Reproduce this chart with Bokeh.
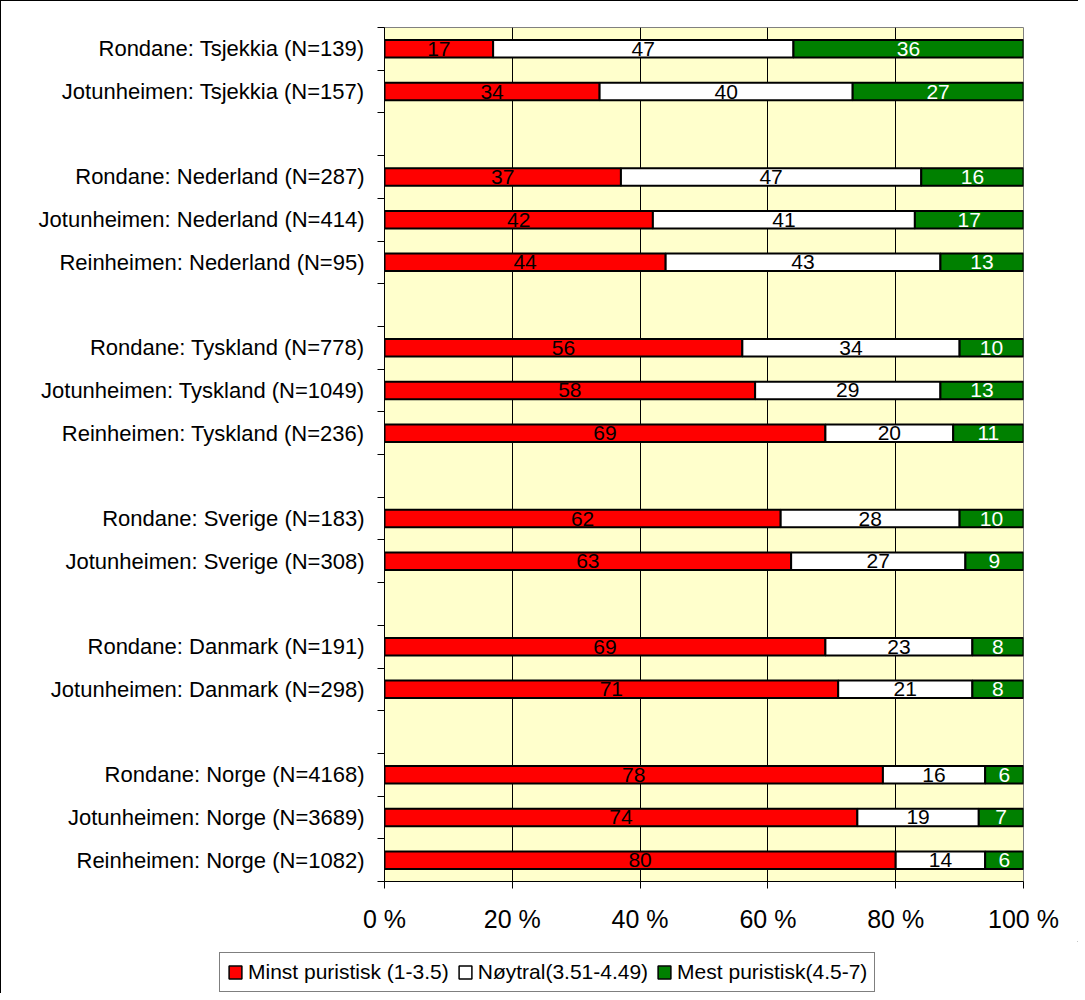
from bokeh.plotting import figure
from bokeh.layouts import column
from bokeh.models import Range1d, FixedTicker, Legend, LegendItem, ColumnDataSource
from bokeh.embed import file_html
from bokeh.resources import INLINE
from bokeh.core.properties import value

# ---- data (top row first; "" marks an empty spacer row) ----
categories = [
    "Rondane: Tsjekkia (N=139)",
    "Jotunheimen: Tsjekkia (N=157)",
    "",
    "Rondane: Nederland (N=287)",
    "Jotunheimen: Nederland (N=414)",
    "Reinheimen: Nederland (N=95)",
    "",
    "Rondane: Tyskland (N=778)",
    "Jotunheimen: Tyskland (N=1049)",
    "Reinheimen: Tyskland (N=236)",
    "",
    "Rondane: Sverige (N=183)",
    "Jotunheimen: Sverige (N=308)",
    "",
    "Rondane: Danmark (N=191)",
    "Jotunheimen: Danmark (N=298)",
    "",
    "Rondane: Norge (N=4168)",
    "Jotunheimen: Norge (N=3689)",
    "Reinheimen: Norge (N=1082)",
]
minst   = [17, 34, None, 37, 42, 44, None, 56, 58, 69, None, 62, 63, None, 69, 71, None, 78, 74, 80]
noytral = [47, 40, None, 47, 41, 43, None, 34, 29, 20, None, 28, 27, None, 23, 21, None, 16, 19, 14]
mest    = [36, 27, None, 16, 17, 13, None, 10, 13, 11, None, 10,  9, None,  8,  8, None,  6,  7,  6]

series_names = ["Minst puristisk (1-3.5)", "Nøytral(3.51-4.49)", "Mest puristisk(4.5-7)"]
series_colors = ["#FF0000", "#FFFFFF", "#008000"]
label_colors = ["black", "black", "white"]

x_ticks = [0, 20, 40, 60, 80, 100]
x_tick_labels = ["0 %", "20 %", "40 %", "60 %", "80 %", "100 %"]

FONT = "Liberation Sans"
n = len(categories)

# ---- build sources ----
series = [minst, noytral, mest]
srcs = [dict(y=[], left=[], right=[], xc=[], label=[], color=[]) for _ in series]
for i, cat in enumerate(categories):
    if not cat:
        continue
    y = n - 1 - i
    vals = [s[i] for s in series]
    tot = float(sum(vals))
    acc = 0.0
    for k, v in enumerate(vals):
        l = acc / tot * 100
        acc += v
        r = acc / tot * 100
        d = srcs[k]
        d["y"].append(y)
        d["left"].append(l)
        d["right"].append(r)
        d["xc"].append((l + r) / 2)
        d["label"].append(str(v))
        d["color"].append(label_colors[k])

W = 1077
p = figure(width=W, height=940,
           x_range=Range1d(0, 100), y_range=Range1d(-0.5, n - 0.5),
           output_backend="svg", toolbar_location=None,
           min_border_left=383, min_border_right=55,
           min_border_top=26, min_border_bottom=60)
p.frame_align = False
p.background_fill_color = "#FFFFCC"
p.border_fill_color = "white"
p.outline_line_color = "#808080"
p.outline_line_width = 1

for k in range(3):
    src = ColumnDataSource(srcs[k])
    p.hbar(y="y", left="left", right="right", height=0.41, source=src,
           fill_color=series_colors[k], line_color="black", line_width=2)
    p.text(x="xc", y="y", text="label", text_color="color", source=src,
           text_align="center", text_baseline="middle",
           text_font=value(FONT), text_font_size="21px")

# grid
p.ygrid.visible = False
p.xgrid.ticker = FixedTicker(ticks=x_ticks[1:-1])
p.xgrid.grid_line_color = "black"
p.xgrid.grid_line_width = 1

# x axis
xa = p.xaxis[0]
xa.ticker = FixedTicker(ticks=x_ticks)
xa.major_label_overrides = {t: lab for t, lab in zip(x_ticks, x_tick_labels)}
xa.major_tick_out = 7
xa.major_tick_in = 0
xa.minor_tick_line_color = None
xa.axis_line_color = "black"
xa.major_tick_line_color = "black"
xa.major_label_text_font = FONT
xa.major_label_text_font_size = "25px"
xa.major_label_text_color = "black"
xa.major_label_standoff = 16

# y axis
centers = [n - 1 - i for i, c in enumerate(categories) if c]
bounds = [b - 0.5 for b in range(n + 1)]
ya = p.yaxis[0]
ya.ticker = FixedTicker(ticks=centers, minor_ticks=bounds)
ya.major_label_overrides = {n - 1 - i: c for i, c in enumerate(categories) if c}
ya.major_tick_line_color = None
ya.major_tick_out = 7
ya.major_tick_in = 0
ya.minor_tick_line_color = "black"
ya.minor_tick_out = 7
ya.minor_tick_in = 0
ya.axis_line_color = "black"
ya.major_label_text_font = FONT
ya.major_label_text_font_size = "22px"
ya.major_label_text_color = "black"
ya.major_label_standoff = 13

# ---- legend strip (separate figure so the legend is not clipped) ----
pl = figure(width=W, height=52, x_range=Range1d(0, 1), y_range=Range1d(0, 1),
            output_backend="svg", toolbar_location=None,
            x_axis_location=None, y_axis_location=None,
            min_border=0, min_border_left=0, min_border_right=0,
            min_border_top=0, min_border_bottom=0)
pl.frame_align = False
pl.grid.visible = False
pl.outline_line_color = None
pl.background_fill_color = "white"
items = []
for k in range(3):
    r = pl.hbar(y=[5], left=[5], right=[6], height=0.4,
                fill_color=series_colors[k], line_color="black", line_width=1.5)
    items.append(LegendItem(label=series_names[k], renderers=[r]))
legend = Legend(items=items, orientation="horizontal", location=(218, 1),
                border_line_color="black", border_line_width=1,
                background_fill_color="white", background_fill_alpha=1,
                label_text_font=FONT, label_text_font_size="21px",
                label_text_color="black",
                glyph_width=16, glyph_height=16, label_standoff=5,
                spacing=8, padding=7, margin=0, label_height=21)
pl.add_layout(legend, "center")

layout = column(p, pl, spacing=0,
                styles={"border-top": "1px solid black", "border-left": "1px solid black"})

open("out.html", "w").write(file_html(layout, INLINE))
